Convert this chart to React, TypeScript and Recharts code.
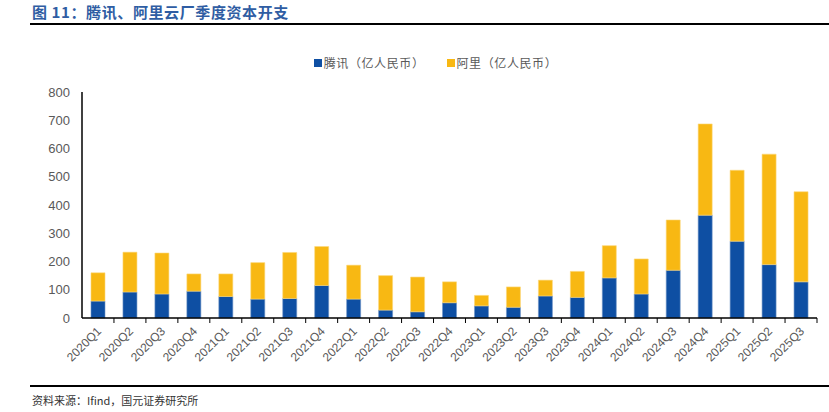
import React from 'react';
import { BarChart, Bar, XAxis, YAxis } from 'recharts';

const quarters = [
  '2020Q1', '2020Q2', '2020Q3', '2020Q4',
  '2021Q1', '2021Q2', '2021Q3', '2021Q4',
  '2022Q1', '2022Q2', '2022Q3', '2022Q4',
  '2023Q1', '2023Q2', '2023Q3', '2023Q4',
  '2024Q1', '2024Q2', '2024Q3', '2024Q4',
  '2025Q1', '2025Q2', '2025Q3',
];

// 腾讯 capex, 亿人民币
const tencent = [60, 92, 85, 95, 76, 67, 69, 115, 67, 28, 22, 54, 43, 38, 78, 73, 142, 85, 169, 364, 272, 189, 128];
// 阿里 capex, 亿人民币
const alibaba = [100, 141, 145, 61, 80, 129, 163, 138, 120, 122, 123, 74, 37, 72, 56, 92, 114, 124, 178, 323, 251, 391, 319];

const yTicks = [0, 100, 200, 300, 400, 500, 600, 700, 800];

const seriesNames = ['腾讯（亿人民币）', '阿里（亿人民币）'];
const seriesColors = ['#0e4fa3', '#f8b813'];

const data = quarters.map((q, i) => ({ q, tencent: tencent[i], alibaba: alibaba[i] }));

const W = 829;
const H = 412;
const M = { top: 92, right: 12, bottom: 34, left: 32 };
const Y_W = 50;
const PLOT_W = W - M.left - M.right - Y_W;
const HALF_BAND = PLOT_W / quarters.length / 2;

const cjk = '"Liberation Sans", Arial, "Noto Sans CJK SC", sans-serif';

const QuarterTick = (props: any) => {
  const { x, y, payload } = props;
  const tx = x + 4;
  const ty = y + 14;
  return (
    <g>
      <line x1={x + HALF_BAND} x2={x + HALF_BAND} y1={y} y2={y + 5} stroke="#000" strokeWidth={1} />
      <text
        x={tx}
        y={ty}
        textAnchor="end"
        fontSize={12}
        fill="#595959"
        fontFamily={cjk}
        transform={`rotate(-45, ${tx}, ${ty})`}
      >
        {payload.value}
      </text>
    </g>
  );
};

const App = () => {
  return (
    <div style={{ position: 'absolute', left: 0, top: 0, width: W, height: H, background: '#fff', fontFamily: cjk }}>
      <div
        style={{
          position: 'absolute', left: 32, top: 1, fontSize: 15, fontWeight: 'bold',
          color: '#2f5da3', fontFamily: '"Noto Sans CJK SC", sans-serif', letterSpacing: 0.6,
        }}
      >
        图 11：腾讯、阿里云厂季度资本开支
      </div>
      <div style={{ position: 'absolute', left: 30, right: 0, top: 23, height: 2, background: '#000' }} />

      <div
        style={{
          position: 'absolute', left: 0, width: W, top: 54, display: 'flex', justifyContent: 'center',
          gap: 22, fontSize: 12, color: '#595959', paddingLeft: 42, boxSizing: 'border-box',
          fontFamily: '"Noto Sans CJK SC", sans-serif',
        }}
      >
        {seriesNames.map((n, i) => (
          <div key={n} style={{ display: 'flex', alignItems: 'center' }}>
            <span style={{ width: 8, height: 8, background: seriesColors[i], marginRight: 2, display: 'inline-block' }} />
            <span style={{ letterSpacing: 0.6 }}>{n}</span>
          </div>
        ))}
      </div>

      <div style={{ position: 'absolute', left: 0, top: 0 }}>
        <BarChart width={W} height={H} data={data} margin={M} barSize={14} barGap={0}>
          <XAxis
            dataKey="q"
            interval={0}
            height={60}
            tickSize={0}
            tickMargin={0}
            tick={<QuarterTick />}
            axisLine={{ stroke: '#000', strokeWidth: 1.5 }}
          />
          <YAxis
            width={Y_W}
            domain={[0, 800]}
            ticks={yTicks}
            tickLine={false}
            tickMargin={6}
            axisLine={{ stroke: '#000', strokeWidth: 1.5 }}
            tick={{ fontSize: 13, fill: '#595959', fontFamily: cjk }}
          />
          <Bar dataKey="tencent" stackId="a" fill={seriesColors[0]} stroke="#6f93c6" strokeWidth={0.6} isAnimationActive={false} />
          <Bar dataKey="alibaba" stackId="a" fill={seriesColors[1]} stroke="#fbd67a" strokeWidth={0.6} isAnimationActive={false} />
        </BarChart>
      </div>

      <div style={{ position: 'absolute', left: 30, right: 0, top: 385, height: 2, background: '#000' }} />
      <div
        style={{
          position: 'absolute', left: 32, top: 392, fontSize: 11, color: '#333',
          fontFamily: '"Noto Sans CJK SC", sans-serif',
        }}
      >
        资料来源：Ifind，国元证券研究所
      </div>
    </div>
  );
};

export default App;
